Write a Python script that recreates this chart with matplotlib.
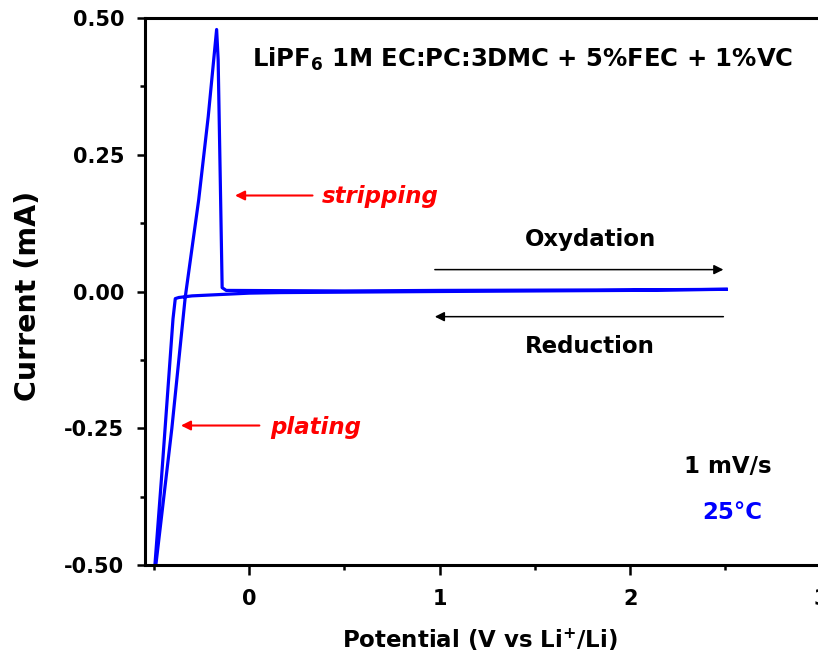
import matplotlib
matplotlib.use("Agg")
import matplotlib.pyplot as plt
from matplotlib.ticker import MultipleLocator, FormatStrFormatter

plt.rcParams['font.family'] = ['DejaVu Sans']
plt.rcParams['font.weight'] = 'bold'
plt.rcParams['mathtext.default'] = 'bf'

# barrido de oxidacion (desde el fondo hasta 2.5 V)
ox_x = [-0.49, -0.406, -0.336, -0.265, -0.215, -0.171,
        -0.163, -0.150, -0.142, -0.121, 0.5, 1.0, 2.0, 2.504]
ox_y = [-0.50, -0.25, -0.011, 0.168, 0.32, 0.479,
        0.424, 0.168, 0.007, 0.002, 0.001, 0.002, 0.003, 0.004]

# barrido de reduccion (desde 2.5 V hasta el fondo)
red_x = [2.504, 2.0, 1.0, 0.163, 0.0, -0.3, -0.37, -0.388, -0.40, -0.461, -0.495]
red_y = [0.004, 0.002, 0.0, -0.002, -0.003, -0.008, -0.011, -0.013, -0.05, -0.344, -0.50]

fig = plt.figure(figsize=(8.18, 6.62), dpi=100)
ax = fig.add_axes([145/818, 97/662, 694.7/818, 547/662])

ax.plot(red_x + ox_x, red_y + ox_y, color='#0000FF', lw=2.3, solid_joinstyle='round')

ax.set_xlim(-0.547, 3.1)
ax.set_ylim(-0.5, 0.5)
ax.xaxis.set_major_locator(MultipleLocator(1))
ax.xaxis.set_minor_locator(MultipleLocator(0.5))
ax.yaxis.set_major_locator(MultipleLocator(0.25))
ax.yaxis.set_minor_locator(MultipleLocator(0.125))
ax.yaxis.set_major_formatter(FormatStrFormatter('%.2f'))
ax.xaxis.set_major_formatter(FormatStrFormatter('%d'))

for s in ax.spines.values():
    s.set_linewidth(2.2)
ax.tick_params(which='major', direction='out', length=6, width=1.8, labelsize=15, pad=9)
ax.tick_params(which='minor', direction='out', length=3.6, width=1.8)
ax.tick_params(axis='x', which='major', length=7.2, pad=10)
for lab in ax.get_xticklabels() + ax.get_yticklabels():
    lab.set_fontweight('bold')

fig.text(480/818, 1 - 640/662, 'Potential (V vs Li$^{+}$/Li)', fontsize=16.5,
         fontweight='bold', ha='center', va='center')
fig.text(28/818, 1 - 296/662, 'Current (mA)', fontsize=20.5, fontweight='bold',
         ha='center', va='center', rotation=90)

ax.text(1.433, 0.424, 'LiPF$_{6}$ 1M EC:PC:3DMC + 5%FEC + 1%VC',
        ha='center', va='center', fontsize=17.5, fontweight='bold')

# flechas
ax.annotate('', xy=(-0.089, 0.1755), xytext=(0.347, 0.1755),
            arrowprops=dict(arrowstyle='-|>', color='red', lw=1.5, mutation_scale=14))
ax.text(0.383, 0.173, 'stripping', color='red', fontsize=16.5, fontweight='bold',
        fontstyle='italic', ha='left', va='center')
ax.annotate('', xy=(-0.373, -0.245), xytext=(0.068, -0.245),
            arrowprops=dict(arrowstyle='-|>', color='red', lw=1.5, mutation_scale=14))
ax.text(0.11, -0.248, 'plating', color='red', fontsize=16.5, fontweight='bold',
        fontstyle='italic', ha='left', va='center')

ax.annotate('', xy=(2.504, 0.040), xytext=(0.96, 0.040),
            arrowprops=dict(arrowstyle='-|>', color='black', lw=1.1, mutation_scale=14))
ax.text(1.79, 0.095, 'Oxydation', fontsize=16.5, fontweight='bold', ha='center', va='center')
ax.annotate('', xy=(0.96, -0.046), xytext=(2.504, -0.046),
            arrowprops=dict(arrowstyle='-|>', color='black', lw=1.1, mutation_scale=14))
ax.text(1.79, -0.100, 'Reduction', fontsize=16.5, fontweight='bold', ha='center', va='center')

ax.text(2.514, -0.32, '1 mV/s', fontsize=16.5, fontweight='bold', ha='center', va='center')
ax.text(2.535, -0.404, '25°C', color='#0000FF', fontsize=16.5, fontweight='bold',
        ha='center', va='center')

fig.savefig('out.png', dpi=100)
